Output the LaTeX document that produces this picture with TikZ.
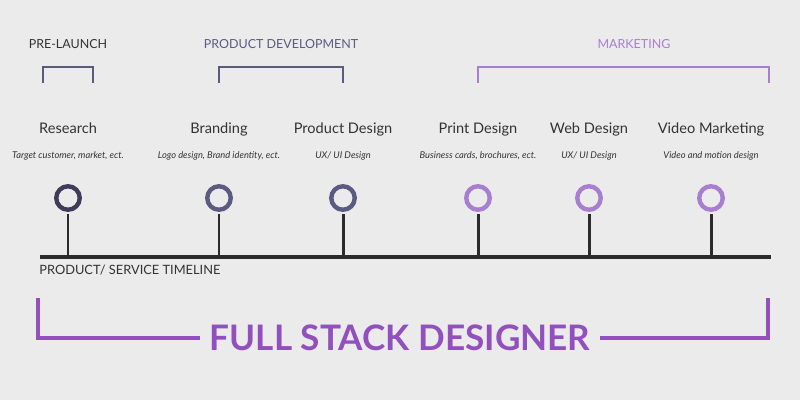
\documentclass[tikz,border=0pt]{standalone}
\usepackage{fontspec}
\setmainfont{Lato}
\usetikzlibrary{positioning}
\usepackage{xcolor}
\definecolor{PageGray}{HTML}{EBEBEB}
\definecolor{InkDark}{HTML}{2B2B2B}
\definecolor{TextGray}{HTML}{333333}
\definecolor{NavyRing}{HTML}{3F3B58}
\definecolor{DuskRing}{HTML}{5B5A80}
\definecolor{LilacRing}{HTML}{A77FD0}
\definecolor{GrapeBold}{HTML}{9150BD}

\begin{document}
\begin{tikzpicture}[
  x=0.02cm, y=-0.02cm,
  dot/.style={circle, draw=#1, line width=2.5pt, fill=PageGray,
    minimum size=0.47cm, inner sep=0pt},
  stem/.style={line width=1.7pt, color=InkDark, shorten <=1.2pt},
  headline/.style={anchor=base, inner sep=0pt, text=TextGray,
    font=\fontsize{8.3}{10}\selectfont},
  subline/.style={anchor=base, inner sep=0pt, text=TextGray,
    font=\fontsize{5.3}{6}\selectfont\itshape},
  phase/.style={anchor=base, inner sep=0pt, text=#1,
    font=\fontsize{7.1}{8}\selectfont},
  bracket/.style={line width=1.2pt, draw=#1}
]
  \fill[PageGray] (0,0) rectangle (800,400);

  % phases
  \node[phase=TextGray]  (prelaunch) at (68,48)  {PRE-LAUNCH};
  \node[phase=DuskRing]  (devel)     at (281,48) {PRODUCT DEVELOPMENT};
  \node[phase=LilacRing] (marketing) at (634,48) {MARKETING};

  \draw[bracket=DuskRing]  (43,83) -- (43,67) -- (93,67) -- (93,83);
  \draw[bracket=DuskRing]  (219,83) -- (219,67) -- (343,67) -- (343,83);
  \draw[bracket=LilacRing] (478,83) -- (478,67) -- (769,67) -- (769,83);

  % steps
  \node[headline] (research) at (68,133)  {Research};
  \node[headline] (branding) at (219,133) {Branding};
  \node[headline] (product)  at (343,133) {Product Design};
  \node[headline] (print)    at (478,133) {Print Design};
  \node[headline] (web)      at (589,133) {Web Design};
  \node[headline] (video)    at (711,133) {Video Marketing};

  \node[subline] (research-note) at (68,158)  {Target customer, market, ect.};
  \node[subline] (branding-note) at (219,158) {Logo design, Brand identity, ect.};
  \node[subline] (product-note)  at (343,158) {UX/ UI Design};
  \node[subline] (print-note)    at (478,158) {Business cards, brochures, ect.};
  \node[subline] (web-note)      at (589,158) {UX/ UI Design};
  \node[subline] (video-note)    at (711,158) {Video and motion design};

  \node[dot=NavyRing]  (research-dot) at (68,198)  {};
  \node[dot=DuskRing]  (branding-dot) at (219,198) {};
  \node[dot=DuskRing]  (product-dot)  at (343,198) {};
  \node[dot=LilacRing] (print-dot)    at (478,198) {};
  \node[dot=LilacRing] (web-dot)      at (589,198) {};
  \node[dot=LilacRing] (video-dot)    at (711,198) {};

  % timeline
  \coordinate (tl-start) at (40,257);
  \coordinate (tl-end)   at (771,257);
  \draw[line width=2.3pt, InkDark] (tl-start) -- (tl-end);

  \draw[stem] (research-dot.south) -- (research-dot |- tl-start);
  \draw[stem] (branding-dot.south) -- (branding-dot |- tl-start);
  \draw[stem] (product-dot.south)  -- (product-dot |- tl-start);
  \draw[stem] (print-dot.south)    -- (print-dot |- tl-start);
  \draw[stem] (web-dot.south)      -- (web-dot |- tl-start);
  \draw[stem] (video-dot.south)    -- (video-dot |- tl-start);

  \node[phase=TextGray, anchor=base west, font=\fontsize{7.3}{8}\selectfont]
    (tl-label) at (39,274) {PRODUCT/ SERVICE TIMELINE};

  % full stack
  \node[inner sep=0.18cm, text=GrapeBold, font=\fontsize{20}{24}\selectfont\bfseries]
    (stack) at (400,338) {FULL STACK DESIGNER};
  \coordinate (stack-left)  at (38,298);
  \coordinate (stack-right) at (768,298);
  \draw[line width=2.5pt, GrapeBold] (stack-left) |- (stack.west);
  \draw[line width=2.5pt, GrapeBold] (stack-right) |- (stack.east);
\end{tikzpicture}
\end{document}
